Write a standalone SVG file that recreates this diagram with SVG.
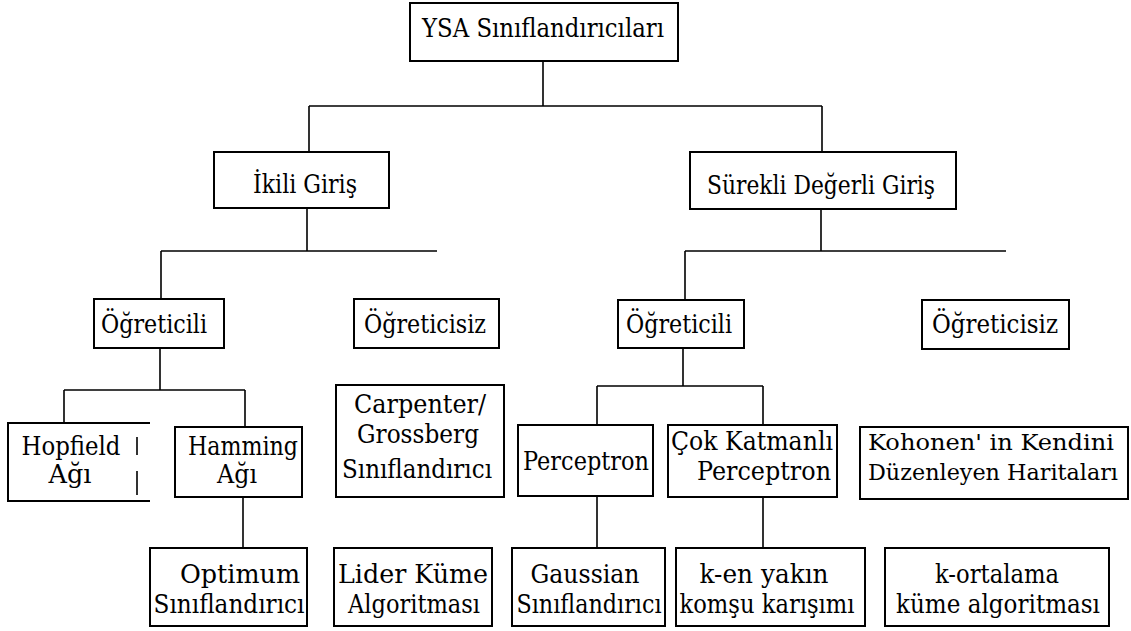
<svg xmlns="http://www.w3.org/2000/svg" width="1131" height="631" viewBox="0 0 1131 631">
<style>
.b{fill:#fff;stroke:#000;stroke-width:2}
.c{fill:none;stroke:#000;stroke-width:1.6}
text{font-size:26px;fill:#000;text-anchor:middle;font-family:"DejaVu Serif","Liberation Serif",serif}
.s{font-size:23px}
</style>
<rect width="1131" height="631" fill="#fff"/>
<g id="connectors" class="c">
<path d="M543,61V106M309,106H822M309,106V152M822,106V152"/>
<path d="M307,208V251M161,251H437M161,251V299"/>
<path d="M821,209V251M685,251H1006M685,251V300"/>
<path d="M160,348V390M64,390H245M64,390V423M245,390V427"/>
<path d="M243,497V548"/>
<path d="M683,348V386M597,386H763M597,386V425M763,386V425"/>
<path d="M597,496V548M763,497V548"/>
</g>
<g id="root"><rect class="b" x="410" y="3" width="268" height="58"/><text x="543" y="37" textLength="242" lengthAdjust="spacingAndGlyphs">YSA Sınıflandırıcıları</text></g>
<g id="ikili"><rect class="b" x="214" y="152" width="175" height="56"/><text x="305" y="193" textLength="104" lengthAdjust="spacingAndGlyphs">İkili Giriş</text></g>
<g id="surekli"><rect class="b" x="690" y="152" width="266" height="57"/><text x="821" y="194" textLength="228" lengthAdjust="spacingAndGlyphs">Sürekli Değerli Giriş</text></g>
<g id="ogreticili1"><rect class="b" x="94" y="299" width="130" height="49"/><text x="154" y="333" textLength="106" lengthAdjust="spacingAndGlyphs">Öğreticili</text></g>
<g id="ogreticisiz1"><rect class="b" x="354" y="299" width="145" height="49"/><text x="425" y="333" textLength="122" lengthAdjust="spacingAndGlyphs">Öğreticisiz</text></g>
<g id="ogreticili2"><rect class="b" x="618" y="300" width="126" height="48"/><text x="679" y="333" textLength="106" lengthAdjust="spacingAndGlyphs">Öğreticili</text></g>
<g id="ogreticisiz2"><rect class="b" x="922" y="300" width="147" height="49"/><text x="995" y="333" textLength="126" lengthAdjust="spacingAndGlyphs">Öğreticisiz</text></g>
<g id="hopfield"><path class="b" d="M150,423H8V501H150" style="fill:none"/><path class="c" d="M137,437V455M137,471V495"/><text x="71" y="455" textLength="99" lengthAdjust="spacingAndGlyphs">Hopfield</text><text x="70" y="483" textLength="43" lengthAdjust="spacingAndGlyphs">Ağı</text></g>
<g id="hamming"><rect class="b" x="175" y="427" width="127" height="70"/><text x="243" y="455" textLength="110" lengthAdjust="spacingAndGlyphs">Hamming</text><text x="237" y="483" textLength="40" lengthAdjust="spacingAndGlyphs">Ağı</text></g>
<g id="carpenter"><rect class="b" x="336" y="385" width="168" height="112"/><text x="420" y="413" textLength="132" lengthAdjust="spacingAndGlyphs">Carpenter/</text><text x="418" y="443" textLength="122" lengthAdjust="spacingAndGlyphs">Grossberg</text><text x="417" y="478" textLength="150" lengthAdjust="spacingAndGlyphs">Sınıflandırıcı</text></g>
<g id="perceptron"><rect class="b" x="518" y="425" width="135" height="71"/><text x="586" y="470" textLength="126" lengthAdjust="spacingAndGlyphs">Perceptron</text></g>
<g id="cok"><rect class="b" x="668" y="425" width="169" height="72"/><text x="752" y="450" textLength="162" lengthAdjust="spacingAndGlyphs">Çok Katmanlı</text><text x="764" y="480" textLength="134" lengthAdjust="spacingAndGlyphs">Perceptron</text></g>
<g id="kohonen"><rect class="b" x="860" y="427" width="268" height="72"/><text class="s" x="991" y="450" textLength="246" lengthAdjust="spacingAndGlyphs">Kohonen' in Kendini</text><text class="s" x="993" y="480" textLength="250" lengthAdjust="spacingAndGlyphs">Düzenleyen Haritaları</text></g>
<g id="optimum"><rect class="b" x="150" y="548" width="157" height="78"/><text x="240" y="583" textLength="120" lengthAdjust="spacingAndGlyphs">Optimum</text><text x="229" y="613" textLength="151" lengthAdjust="spacingAndGlyphs">Sınıflandırıcı</text></g>
<g id="lider"><rect class="b" x="334" y="548" width="158" height="78"/><text x="413" y="583" textLength="150" lengthAdjust="spacingAndGlyphs">Lider Küme</text><text x="414" y="613" textLength="132" lengthAdjust="spacingAndGlyphs">Algoritması</text></g>
<g id="gaussian"><rect class="b" x="512" y="548" width="153" height="78"/><text x="585" y="583" textLength="109" lengthAdjust="spacingAndGlyphs">Gaussian</text><text x="589" y="613" textLength="145" lengthAdjust="spacingAndGlyphs">Sınıflandırıcı</text></g>
<g id="ken"><rect class="b" x="676" y="548" width="189" height="78"/><text x="764" y="583" textLength="129" lengthAdjust="spacingAndGlyphs">k-en yakın</text><text x="767" y="613" textLength="175" lengthAdjust="spacingAndGlyphs">komşu karışımı</text></g>
<g id="kortalama"><rect class="b" x="885" y="548" width="224" height="78"/><text x="997" y="583" textLength="124" lengthAdjust="spacingAndGlyphs">k-ortalama</text><text x="998" y="613" textLength="204" lengthAdjust="spacingAndGlyphs">küme algoritması</text></g>
</svg>
